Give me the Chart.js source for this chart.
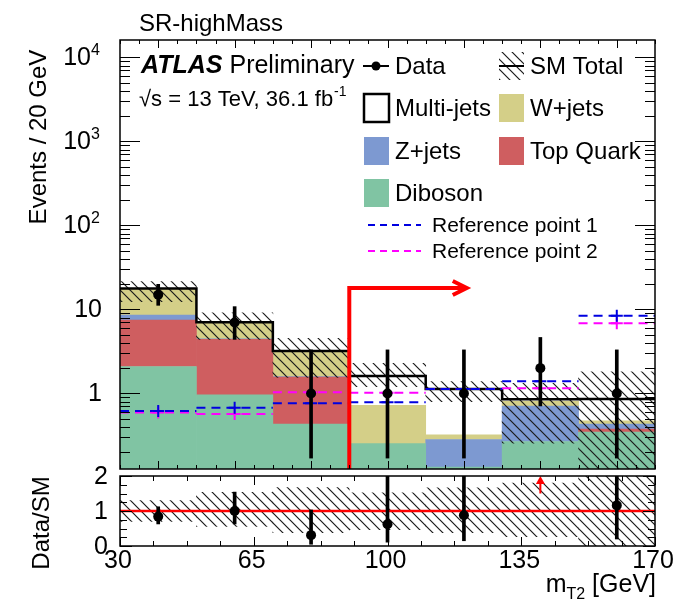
<!DOCTYPE html>
<html>
<head>
<meta charset="utf-8">
<title>SR-highMass - mT2</title>
<script src="https://cdn.jsdelivr.net/npm/chart.js@4.4.1/dist/chart.umd.min.js"></script>
<style>
  html, body { margin: 0; padding: 0; background: #fff; }
  #wrap { position: relative; width: 675px; height: 603px; }
  #wrap canvas { position: absolute; left: 0; top: 0; }
</style>
</head>
<body>
<div id="wrap">
  <canvas id="mainChart" width="675" height="603"></canvas>
  <canvas id="ratioChart" width="675" height="603"></canvas>
</div>
<script>
// m_T2 bins [GeV]
const binEdges   = [30, 50, 70, 90, 110, 130, 150, 170];
const binCenters = [40, 60, 80, 100, 120, 140, 160];

// backgrounds, events / 20 GeV (bottom of the stack first)
const diboson   = [2.08, 0.95, 0.42, 0.24, 0.12, 0.255, 0.335];
const topQuark  = [5.40, 3.46, 1.13, 0, 0, 0, 0.03];
const zJets     = [1.10, 0.04, 0.02, 0, 0.15, 0.44, 0.055];
const wJets     = [9.22, 2.57, 1.63, 0.47, 0.04, 0.10, 0.04];
const multiJets = [0, 0, 0, 0.90, 0.82, 0.06, 0.40];

// SM total and its uncertainty band
const smTotal  = [17.8, 7.02, 3.20, 1.61, 1.13, 0.855, 0.86];
const smBandLo = [12.4, 4.41, 1.555, 1.20, 0.796, 0.255, 0.05];
const smBandHi = [21.4, 9.14, 4.53, 2.28, 1.38, 1.32, 1.81];

// data with asymmetric (Poisson) error bars
const dataCounts = [15, 7, 1, 1, 1, 2, 1];
const dataErrLo  = [11.2, 4.4, 0.17, 0.17, 0.17, 0.71, 0.17];
const dataErrHi  = [19.9, 10.8, 3.3, 3.3, 3.3, 4.64, 3.3];

// signal reference points
const refPoint1 = [0.617, 0.676, 0.762, 0.783, 1.13, 1.40, 8.41];
const refPoint2 = [0.593, 0.569, 1.03, 1.02, 1.13, 1.15, 6.83];

// ratio panel
const ratioVals   = [0.84, 1.0, 0.31, 0.62, 0.88, null, 1.16];
const ratioErrLo  = [0.63, 0.63, 0.05, 0.11, 0.15, null, 0.2];
const ratioErrHi  = [1.12, 1.54, 1.03, 2.05, 2.9, null, 3.8];
const ratioBandLo = [0.70, 0.56, 0.38, 0.47, 0.38, 0.27, 0.0];
const ratioBandHi = [1.30, 1.53, 1.67, 1.52, 1.66, 1.80, 2.05];
const ratioOffScale = [140];   // bin centre with data/SM above the range
const ratioOffFrom  = 1.5;

// axes
const yTickDecades = [1, 10, 100, 1000, 10000];
const yMin = 0.126, yMax = 16150;
const xTickLabels = [30, 65, 100, 135, 170];
const ratioTicks = [0, 1, 2];

// selection cut
const cutValue = 90, cutArrowEnd = 121, cutArrowLevel = 18;

const FONT = '"Liberation Sans", Arial, Helvetica, sans-serif';
const colors = {
  diboson: '#80c4a3',
  top: '#cf5e60',
  zjets: '#7d99d1',
  wjets: '#d4cf88',
  ref1: '#0000e0',
  ref2: '#ff00ff'
};

function makeHatch(color) {
  const s = 10;
  const c = document.createElement('canvas');
  c.width = s; c.height = s;
  const g = c.getContext('2d');
  g.strokeStyle = color;
  g.lineWidth = 1.2;
  g.beginPath();
  g.moveTo(-2, -2); g.lineTo(s + 2, s + 2);
  g.moveTo(-2, s - 2); g.lineTo(2, s + 2);
  g.moveTo(s - 2, -2); g.lineTo(s + 2, 2);
  g.stroke();
  return g.createPattern(c, 'repeat');
}
const hatch = makeHatch('#1a1a1a');

// build floating bars for the stack from the component arrays
const components = [
  { label: 'Diboson', values: diboson, color: colors.diboson },
  { label: 'Top Quark', values: topQuark, color: colors.top },
  { label: 'Z+jets', values: zJets, color: colors.zjets },
  { label: 'W+jets', values: wJets, color: colors.wjets },
  { label: 'Multi-jets', values: multiJets, color: '#ffffff' }
];
const cumulative = binCenters.map(() => yMin * 0.1);
const stackSets = components.map((comp, k) => {
  const pts = binCenters.map((x, i) => {
    const lo = cumulative[i];
    const hi = lo + comp.values[i];
    cumulative[i] = hi;
    return { x: x, y: comp.values[i] > 0 ? [lo, hi] : null };
  });
  return {
    type: 'bar', label: comp.label, data: pts,
    backgroundColor: comp.color, borderWidth: 0,
    barPercentage: 1, categoryPercentage: 1, grouped: false,
    clip: 0, order: 20 + k
  };
});

function stepLine(values) {
  const pts = binEdges.slice(0, -1).map((e, i) => ({ x: e, y: values[i] }));
  pts.push({ x: binEdges[binEdges.length - 1], y: values[values.length - 1] });
  return pts;
}
function binSegments(values) {
  const pts = [];
  values.forEach((v, i) => {
    pts.push({ x: binEdges[i], y: v }, { x: binEdges[i + 1], y: v }, { x: binEdges[i + 1], y: null });
  });
  return pts;
}
function floatBars(lo, hi) {
  return binCenters.map((x, i) => ({ x: x, y: lo[i] == null ? null : [lo[i], hi[i]] }));
}

const xScale = {
  type: 'linear', min: binEdges[0], max: binEdges[binEdges.length - 1],
  offset: false, display: false,
  afterBuildTicks: (scale) => { scale.ticks = binEdges.map(v => ({ value: v })); }
};

// ---------- axes, frame and text for the main panel ----------
const mainDecor = {
  id: 'mainDecor',
  afterDatasetsDraw(chart) {
    const { ctx, chartArea: a, scales: { x, y } } = chart;
    // cut line with arrow
    const xc = x.getPixelForValue(cutValue);
    const yt = y.getPixelForValue(cutArrowLevel);
    const xe = x.getPixelForValue(cutArrowEnd);
    ctx.save();
    ctx.strokeStyle = '#ff0000';
    ctx.lineWidth = 4;
    ctx.lineJoin = 'miter';
    ctx.beginPath();
    ctx.moveTo(xc, a.bottom); ctx.lineTo(xc, yt); ctx.lineTo(xe - 2, yt);
    ctx.stroke();
    ctx.beginPath();
    ctx.moveTo(xe - 15, yt - 7); ctx.lineTo(xe - 1, yt); ctx.lineTo(xe - 15, yt + 7);
    ctx.stroke();
    ctx.restore();
  },
  afterDraw(chart) {
    const { ctx, chartArea: a, scales: { x, y } } = chart;
    ctx.save();
    ctx.strokeStyle = '#000';
    ctx.lineWidth = 1.5;
    ctx.strokeRect(a.left, a.top, a.right - a.left, a.bottom - a.top);
    ctx.lineWidth = 1;
    ctx.beginPath();
    for (let e = -1; e <= 4; e++) {
      for (let m = 1; m <= 9; m++) {
        const v = m * Math.pow(10, e);
        if (v < y.min || v > y.max) continue;
        const py = Math.round(y.getPixelForValue(v)) + 0.5;
        const len = m === 1 ? 20 : 10;
        ctx.moveTo(a.left, py); ctx.lineTo(a.left + len, py);
        ctx.moveTo(a.right, py); ctx.lineTo(a.right - len, py);
      }
    }
    for (let v = binEdges[0]; v <= binEdges[binEdges.length - 1]; v += 5) {
      const px = Math.round(x.getPixelForValue(v)) + 0.5;
      const len = (v % 20 === 0) ? 8 : 4;
      ctx.moveTo(px, a.bottom); ctx.lineTo(px, a.bottom - len);
      ctx.moveTo(px, a.top); ctx.lineTo(px, a.top + len);
    }
    ctx.stroke();

    // y tick labels
    ctx.fillStyle = '#000';
    ctx.textBaseline = 'middle';
    yTickDecades.forEach(v => {
      const py = y.getPixelForValue(v);
      const p = Math.round(Math.log10(v));
      if (p >= 2) {
        ctx.font = '25px ' + FONT;
        ctx.textAlign = 'right';
        ctx.fillText('10', 91, py + 1);
        ctx.font = '16px ' + FONT;
        ctx.textAlign = 'left';
        ctx.fillText(String(p), 91, py - 7);
      } else {
        ctx.font = '25px ' + FONT;
        ctx.textAlign = 'right';
        ctx.fillText(String(v), 102, py + 1);
      }
    });

    // y axis title
    ctx.save();
    ctx.translate(46, 137);
    ctx.rotate(-Math.PI / 2);
    ctx.font = '24px ' + FONT;
    ctx.textAlign = 'center';
    ctx.textBaseline = 'alphabetic';
    ctx.fillText('Events / 20 GeV', 0, 0);
    ctx.restore();

    // region title
    ctx.font = '24px ' + FONT;
    ctx.textAlign = 'left';
    ctx.textBaseline = 'alphabetic';
    ctx.fillText('SR-highMass', 139, 31);

    // ATLAS label
    ctx.font = 'italic bold 25px ' + FONT;
    ctx.fillText('ATLAS', 141, 73);
    const wA = ctx.measureText('ATLAS').width;
    ctx.font = '25px ' + FONT;
    ctx.fillText('Preliminary', 141 + wA + 7, 73);
    ctx.font = '22px ' + FONT;
    const energy = '\u221As = 13 TeV, 36.1 fb';
    ctx.fillText(energy, 139, 106);
    const wE = ctx.measureText(energy).width;
    ctx.font = '14px ' + FONT;
    ctx.fillText('-1', 139 + wE + 1, 96);

    drawLegend(ctx);
    ctx.restore();
  }
};

function drawLegend(ctx) {
  ctx.save();
  ctx.font = '24px ' + FONT;
  ctx.textAlign = 'left';
  ctx.textBaseline = 'middle';
  ctx.fillStyle = '#000';
  ctx.strokeStyle = '#000';

  // Data
  ctx.lineWidth = 2;
  ctx.beginPath(); ctx.moveTo(363, 66); ctx.lineTo(389, 66); ctx.stroke();
  ctx.beginPath(); ctx.arc(376, 66, 4.5, 0, 2 * Math.PI); ctx.fill();
  ctx.fillText('Data', 395, 67);

  // SM Total
  ctx.save();
  ctx.beginPath(); ctx.rect(499, 52, 25, 28); ctx.clip();
  ctx.fillStyle = hatch; ctx.fillRect(499, 52, 25, 28);
  ctx.restore();
  ctx.lineWidth = 2;
  ctx.beginPath(); ctx.moveTo(499, 66); ctx.lineTo(524, 66); ctx.stroke();
  ctx.fillText('SM Total', 530, 67);

  const boxes = [
    { label: 'Multi-jets', fill: '#ffffff', x: 364, y: 94, line: true },
    { label: 'W+jets', fill: colors.wjets, x: 499, y: 94 },
    { label: 'Z+jets', fill: colors.zjets, x: 364, y: 137 },
    { label: 'Top Quark', fill: colors.top, x: 499, y: 137 },
    { label: 'Diboson', fill: colors.diboson, x: 364, y: 179 }
  ];
  boxes.forEach(b => {
    ctx.fillStyle = b.fill;
    ctx.fillRect(b.x, b.y, 25, 28);
    if (b.line) {
      ctx.lineWidth = 2.5;
      ctx.strokeStyle = '#000';
      ctx.strokeRect(b.x, b.y, 25, 28);
    }
    ctx.fillStyle = '#000';
    ctx.fillText(b.label, b.x + 31, b.y + 15);
  });

  const refs = [
    { label: 'Reference point 1', color: colors.ref1, y: 225 },
    { label: 'Reference point 2', color: colors.ref2, y: 251 }
  ];
  ctx.font = '21px ' + FONT;
  refs.forEach(r => {
    ctx.strokeStyle = r.color;
    ctx.lineWidth = 2;
    ctx.setLineDash([7, 5]);
    ctx.beginPath(); ctx.moveTo(368, r.y); ctx.lineTo(421, r.y); ctx.stroke();
    ctx.setLineDash([]);
    ctx.fillStyle = '#000';
    ctx.fillText(r.label, 432, r.y + 1);
  });
  ctx.restore();
}

// ---------- axes, frame and text for the ratio panel ----------
const ratioDecor = {
  id: 'ratioDecor',
  afterDatasetsDraw(chart) {
    const { ctx, scales: { x, y } } = chart;
    ctx.save();
    ctx.strokeStyle = '#ff0000';
    ctx.fillStyle = '#ff0000';
    ctx.lineWidth = 2;
    ratioOffScale.forEach(v => {
      const px = x.getPixelForValue(v);
      const y0 = y.getPixelForValue(ratioOffFrom);
      const y1 = y.getPixelForValue(y.max);
      ctx.beginPath(); ctx.moveTo(px, y0); ctx.lineTo(px, y1 + 4); ctx.stroke();
      ctx.beginPath();
      ctx.moveTo(px, y1); ctx.lineTo(px - 4.5, y1 + 8); ctx.lineTo(px + 4.5, y1 + 8);
      ctx.closePath(); ctx.fill();
    });
    ctx.restore();
  },
  afterDraw(chart) {
    const { ctx, chartArea: a, scales: { x, y } } = chart;
    ctx.save();
    ctx.strokeStyle = '#000';
    ctx.lineWidth = 1.5;
    ctx.strokeRect(a.left, a.top, a.right - a.left, a.bottom - a.top);
    ctx.lineWidth = 1;
    ctx.beginPath();
    for (let v = 0; v <= 2.0001; v += 0.25) {
      const py = Math.round(y.getPixelForValue(v)) + 0.5;
      const len = Math.abs(v - Math.round(v)) < 1e-6 ? 12 : 7;
      ctx.moveTo(a.left, py); ctx.lineTo(a.left + len, py);
      ctx.moveTo(a.right, py); ctx.lineTo(a.right - len, py);
    }
    const step = (xTickLabels[1] - xTickLabels[0]) / 4;
    for (let v = xTickLabels[0]; v <= xTickLabels[xTickLabels.length - 1] + 0.01; v += step) {
      const px = Math.round(x.getPixelForValue(v)) + 0.5;
      const major = xTickLabels.some(t => Math.abs(t - v) < 0.01);
      const len = major ? 9 : 5;
      ctx.moveTo(px, a.bottom); ctx.lineTo(px, a.bottom - len);
      ctx.moveTo(px, a.top); ctx.lineTo(px, a.top + len);
    }
    ctx.stroke();

    ctx.fillStyle = '#000';
    ctx.font = '25px ' + FONT;
    ctx.textAlign = 'right';
    ctx.textBaseline = 'middle';
    ratioTicks.forEach(v => ctx.fillText(String(v), 108, y.getPixelForValue(v) + 1));

    ctx.textAlign = 'center';
    ctx.textBaseline = 'top';
    xTickLabels.forEach(v => ctx.fillText(String(v), x.getPixelForValue(v) - 2, 549));

    // y title
    ctx.save();
    ctx.translate(49, 523);
    ctx.rotate(-Math.PI / 2);
    ctx.font = '24px ' + FONT;
    ctx.textAlign = 'center';
    ctx.textBaseline = 'alphabetic';
    ctx.fillText('Data/SM', 0, 0);
    ctx.restore();

    // x title: m_T2 [GeV]
    ctx.font = '25px ' + FONT;
    ctx.textAlign = 'left';
    ctx.textBaseline = 'alphabetic';
    const tail = ' [GeV]';
    const wTail = ctx.measureText(tail).width;
    const wM = ctx.measureText('m').width;
    ctx.font = '16px ' + FONT;
    const wSub = ctx.measureText('T2').width;
    const x0 = 656 - wTail - wSub - wM;
    ctx.font = '25px ' + FONT;
    ctx.fillText('m', x0, 592);
    ctx.fillText(tail, x0 + wM + wSub, 592);
    ctx.font = '16px ' + FONT;
    ctx.fillText('T2', x0 + wM, 599);
    ctx.restore();
  }
};

const common = {
  responsive: false,
  devicePixelRatio: 1,
  animation: false,
  events: [],
  plugins: { legend: { display: false }, tooltip: { enabled: false } }
};

// ---------- main panel ----------
new Chart(document.getElementById('mainChart'), {
  data: {
    datasets: [
      {
        type: 'line', label: 'Data', data: binCenters.map((x, i) => ({ x: x, y: dataCounts[i] })),
        showLine: false, pointRadius: 5, pointBackgroundColor: '#000', pointBorderColor: '#000',
        pointBorderWidth: 0, order: 0
      },
      {
        type: 'bar', label: 'Data errors', data: floatBars(dataErrLo, dataErrHi),
        backgroundColor: '#000', barThickness: 3, grouped: false, clip: 0, order: 1
      },
      {
        type: 'line', label: 'Ref 1 markers', data: binCenters.map((x, i) => ({ x: x, y: refPoint1[i] })),
        showLine: false, pointStyle: 'cross', pointRadius: 6, pointBorderWidth: 2,
        pointBorderColor: colors.ref1, order: 2, clip: 0
      },
      {
        type: 'line', label: 'Ref 2 markers', data: binCenters.map((x, i) => ({ x: x, y: refPoint2[i] })),
        showLine: false, pointStyle: 'cross', pointRadius: 6, pointBorderWidth: 2,
        pointBorderColor: colors.ref2, order: 3, clip: 0
      },
      {
        type: 'line', label: 'Reference point 1', data: binSegments(refPoint1),
        borderColor: colors.ref1, borderWidth: 2, borderDash: [9, 6], pointRadius: 0,
        spanGaps: false, order: 4, clip: 0
      },
      {
        type: 'line', label: 'Reference point 2', data: binSegments(refPoint2),
        borderColor: colors.ref2, borderWidth: 2, borderDash: [9, 6], pointRadius: 0,
        spanGaps: false, order: 5, clip: 0
      },
      {
        // 'before': horizontal at the current bin value, then vertical to the next one
        type: 'line', label: 'SM Total', data: stepLine(smTotal), stepped: 'before',
        borderColor: '#000', borderWidth: 2.5, pointRadius: 0, order: 6, clip: 0
      },
      {
        type: 'bar', label: 'SM uncertainty', data: floatBars(smBandLo, smBandHi),
        backgroundColor: hatch, borderWidth: 0, barPercentage: 1, categoryPercentage: 1,
        grouped: false, clip: 0, order: 7
      },
      ...stackSets
    ]
  },
  options: {
    ...common,
    layout: { padding: { left: 120, right: 20, top: 40, bottom: 134 } },
    scales: {
      x: xScale,
      y: { type: 'logarithmic', min: yMin, max: yMax, display: false }
    }
  },
  plugins: [mainDecor]
});

// ---------- ratio panel ----------
new Chart(document.getElementById('ratioChart'), {
  data: {
    datasets: [
      {
        type: 'line', label: 'Data/SM', data: binCenters.map((x, i) => ({ x: x, y: ratioVals[i] })),
        showLine: false, pointRadius: 5, pointBackgroundColor: '#000', pointBorderWidth: 0, order: 0
      },
      {
        type: 'bar', label: 'Data/SM errors', data: floatBars(ratioErrLo, ratioErrHi),
        backgroundColor: '#000', barThickness: 3, grouped: false, clip: 0, order: 1
      },
      {
        type: 'line', label: 'Unity', data: [{ x: binEdges[0], y: 1 }, { x: binEdges[binEdges.length - 1], y: 1 }],
        borderColor: '#ff0000', borderWidth: 2.5, pointRadius: 0, order: 2, clip: 0
      },
      {
        type: 'bar', label: 'SM uncertainty', data: floatBars(ratioBandLo, ratioBandHi),
        backgroundColor: hatch, borderWidth: 0, barPercentage: 1, categoryPercentage: 1,
        grouped: false, clip: 0, order: 3
      }
    ]
  },
  options: {
    ...common,
    layout: { padding: { left: 120, right: 20, top: 476, bottom: 57 } },
    scales: {
      x: xScale,
      y: { type: 'linear', min: 0, max: 2, display: false }
    }
  },
  plugins: [ratioDecor]
});
</script>
</body>
</html>
